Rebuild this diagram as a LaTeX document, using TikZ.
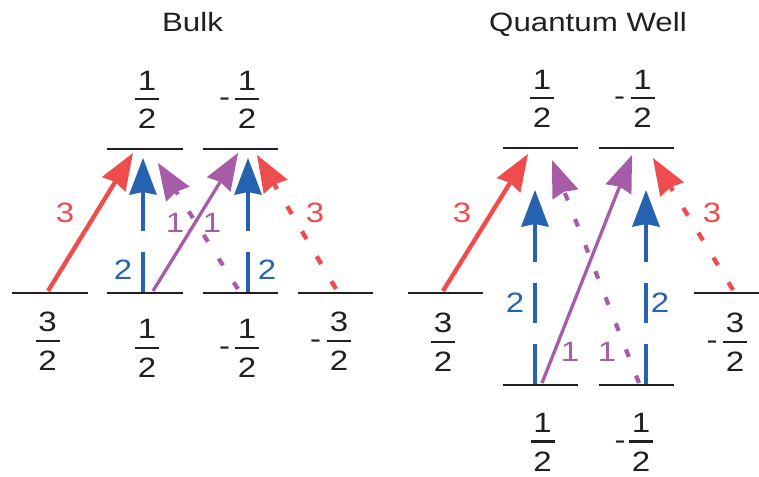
\documentclass[tikz,border=0pt]{standalone}
\usepackage{fontspec}
\setmainfont{Liberation Sans}[FakeStretch=1.18]
\usetikzlibrary{arrows.meta}
\definecolor{cred}{RGB}{239,77,77}
\definecolor{cblue}{RGB}{37,99,176}
\definecolor{cpurple}{RGB}{166,92,166}
\definecolor{cblack}{RGB}{35,31,32}
\newcommand\fb[2]{\vbox{\hbox to 24pt{\hss#1\hss}\kern7.6pt\hrule height2.5pt\kern8.7pt\hbox to 24pt{\hss#2\hss}}}
\tikzset{
  level/.style={draw=cblack,line width=2.6pt},
  big/.style={font=\fontsize{28}{30}\selectfont,text=cblack,inner sep=0pt},
  ttl/.style={font=\fontsize{26.5}{30}\selectfont,text=cblack,inner sep=0pt,anchor=base},
  frc/.style={big},
  mns/.style={big,anchor=base},
  lbl/.style={font=\fontsize{28}{30}\selectfont,inner sep=0pt},
  tipp/.style={-{Stealth[length=37pt,width=28pt,inset=3pt,line width=0pt]}},
  redsolid/.style={tipp,draw=cred,line width=4.4pt},
  reddot/.style={tipp,draw=cred,line width=4.4pt,dash pattern=on 9pt off 20pt},
  bluedash/.style={tipp,draw=cblue,line width=4.4pt,dash pattern=on 40pt off 21pt},
  purpsolid/.style={tipp,draw=cpurple,line width=3.3pt},
  purpdot/.style={tipp,draw=cpurple,line width=4.2pt,dash pattern=on 8pt off 20pt},
}
\newcommand\lvl[4]{\coordinate (#1L) at (#2,#4); \coordinate (#1R) at (#3,#4); \draw[level] (#1L) -- (#1R);}
\begin{document}
\begin{tikzpicture}[x=1pt,y=-1pt]
\useasboundingbox (0,0) rectangle (759,476);
% titles
\node[ttl] (tbulk) at (192.5,32) {Bulk};
\node[ttl] (tqw) at (588,31.7) {Quantum Well};
% ---------- Bulk levels
\lvl{bt1}{107}{183}{149}
\lvl{bt2}{203}{278}{149}
\lvl{bb1}{12}{88}{293}
\lvl{bb2}{107}{183}{293}
\lvl{bb3}{203}{278}{293}
\lvl{bb4}{298}{373}{293}
% ---------- QW levels
\lvl{qt1}{503}{578}{148}
\lvl{qt2}{599}{674}{148}
\lvl{qm1}{408}{483}{293}
\lvl{qm2}{694}{759}{293}
\lvl{qb1}{503}{578}{385}
\lvl{qb2}{599}{674}{385}
% ---------- fractions, Bulk
\node[frc] (fbt1) at (147,99.8) {\fb{1}{2}};
\node[frc] (fbt2) at (247,99.8) {\fb{1}{2}};
\node[mns] (mbt2) at (224.5,106.7) {-};
\node[frc] (fbb1) at (47.5,341.2) {\fb{3}{2}};
\node[frc] (fbb2) at (147,348.5) {\fb{1}{2}};
\node[frc] (fbb3) at (247,348.5) {\fb{1}{2}};
\node[mns] (mbb3) at (224.5,355.4) {-};
\node[frc] (fbb4) at (339,341.2) {\fb{3}{2}};
\node[mns] (mbb4) at (315.5,348.1) {-};
% ---------- fractions, QW
\node[frc] (fqt1) at (542,98.8) {\fb{1}{2}};
\node[frc] (fqt2) at (642.5,98.8) {\fb{1}{2}};
\node[mns] (mqt2) at (619.5,105.7) {-};
\node[frc] (fqm1) at (443,342.2) {\fb{3}{2}};
\node[frc] (fqm2) at (735,342.2) {\fb{3}{2}};
\node[mns] (mqm2) at (712,349.1) {-};
\node[frc] (fqb1) at (542.5,442.2) {\fb{1}{2}};
\node[frc] (fqb2) at (641,442.2) {\fb{1}{2}};
\node[mns] (mqb2) at (620,449.1) {-};
% ---------- arrow end points, Bulk
\coordinate (b1s) at (48,291);   \coordinate (b1e) at (133,153);
\coordinate (b2s) at (143,291.5);\coordinate (b2e) at (143,158);
\coordinate (b3s) at (153,291);  \coordinate (b3e) at (238,153);
\coordinate (b4s) at (238,289);  \coordinate (b4e) at (158,163);
\coordinate (b5s) at (248,291.5);\coordinate (b5e) at (248,158);
\coordinate (b6s) at (336,289);  \coordinate (b6e) at (257,155);
% ---------- arrow end points, QW
\coordinate (q1s) at (443,291);  \coordinate (q1e) at (528,154);
\coordinate (q2s) at (535,383.5);\coordinate (q2e) at (535,190);
\coordinate (q3s) at (542,383);  \coordinate (q3e) at (632,155);
\coordinate (q4s) at (639,383);  \coordinate (q4e) at (552,160);
\coordinate (q5s) at (646,383.5);\coordinate (q5e) at (646,190);
\coordinate (q6s) at (733,290);  \coordinate (q6e) at (653,158);
% ---------- arrows, Bulk
\draw[redsolid] (b1s) -- (b1e);
\draw[bluedash] (b2s) -- (b2e);
\draw[purpsolid] (b3s) -- (b3e);
\draw[purpdot] (b4s) -- (b4e);
\draw[bluedash] (b5s) -- (b5e);
\draw[reddot] (b6s) -- (b6e);
% ---------- arrows, QW
\draw[redsolid] (q1s) -- (q1e);
\draw[bluedash] (q2s) -- (q2e);
\draw[purpsolid] (q3s) -- (q3e);
\draw[purpdot] (q4s) -- (q4e);
\draw[bluedash] (q5s) -- (q5e);
\draw[reddot] (q6s) -- (q6e);
% ---------- labels, Bulk
\node[lbl,text=cred] (lb1) at (65,213) {3};
\node[lbl,text=cblue] (lb2) at (123,270) {2};
\node[lbl,text=cpurple] (lb3) at (175,223) {1};
\node[lbl,text=cpurple] (lb4) at (212,223) {1};
\node[lbl,text=cblue] (lb5) at (267,270) {2};
\node[lbl,text=cred] (lb6) at (315,213) {3};
% ---------- labels, QW
\node[lbl,text=cred] (lq1) at (462,213) {3};
\node[lbl,text=cblue] (lq2) at (515,303) {2};
\node[lbl,text=cpurple] (lq3) at (570,352) {1};
\node[lbl,text=cpurple] (lq4) at (607,352) {1};
\node[lbl,text=cblue] (lq5) at (660,303) {2};
\node[lbl,text=cred] (lq6) at (712,213) {3};
\end{tikzpicture}
\end{document}
